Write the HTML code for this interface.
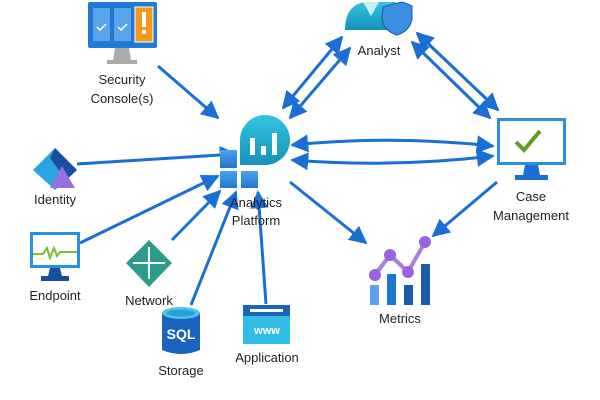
<!DOCTYPE html>
<html><head><meta charset="utf-8"><style>
html,body{margin:0;padding:0;background:#fff;}
svg{display:block;}
text{font-family:"Liberation Sans",sans-serif;font-size:13px;fill:#222;text-anchor:middle;}
</style></head><body>
<svg width="600" height="400" viewBox="0 0 600 400" xmlns="http://www.w3.org/2000/svg">
<defs>
<marker id="a" viewBox="0 0 10 10" refX="9" refY="5" markerWidth="6" markerHeight="6" orient="auto-start-reverse"><path d="M0,0 L10,5 L0,10 z" fill="#1a6fd4"/></marker>
<linearGradient id="tg" x1="0" y1="0" x2="0" y2="1"><stop offset="0" stop-color="#32c5e0"/><stop offset="1" stop-color="#1591b8"/></linearGradient>
<linearGradient id="bg" x1="0" y1="0" x2="0" y2="1"><stop offset="0" stop-color="#4aa3ea"/><stop offset="1" stop-color="#1f77d0"/></linearGradient>
</defs>
<g stroke="#1a6fd4" stroke-width="3" fill="none">
<line x1="158" y1="66" x2="218" y2="118" marker-end="url(#a)"/>
<line x1="77" y1="164" x2="236" y2="154" marker-end="url(#a)"/>
<line x1="80" y1="243" x2="218" y2="176" marker-end="url(#a)"/>
<line x1="172" y1="240" x2="220" y2="191" marker-end="url(#a)"/>
<line x1="191" y1="305" x2="236" y2="192" marker-end="url(#a)"/>
<line x1="266" y1="304" x2="258" y2="192" marker-end="url(#a)"/>
<line x1="290" y1="182" x2="366" y2="243" marker-end="url(#a)"/>
<line x1="497" y1="182" x2="433" y2="236" marker-end="url(#a)"/>
<line x1="342" y1="37" x2="283" y2="108" marker-start="url(#a)" marker-end="url(#a)"/>
<line x1="350" y1="48" x2="290" y2="118" marker-start="url(#a)" marker-end="url(#a)"/>
<line x1="417" y1="33" x2="498" y2="110" marker-start="url(#a)" marker-end="url(#a)"/>
<line x1="412" y1="42" x2="490" y2="118" marker-start="url(#a)" marker-end="url(#a)"/>
<path d="M292,145 Q392,135 493,146" marker-start="url(#a)" marker-end="url(#a)"/>
<path d="M292,160 Q392,168 493,156" marker-start="url(#a)" marker-end="url(#a)"/>
</g>
<rect x="88" y="2" width="69" height="46" rx="2" fill="#1f7ad6"/>
<rect x="93" y="8" width="17" height="33" fill="#5aa2ea"/>
<rect x="114" y="8" width="17" height="33" fill="#5aa2ea"/>
<rect x="135" y="7" width="18" height="35" fill="#f39a1c" stroke="#fff" stroke-width="1"/>
<rect x="142" y="12" width="4" height="15" fill="#fff"/><rect x="142" y="30" width="4" height="4" fill="#fff"/>
<path d="M97,27 l3,3 l6,-6 M118,27 l3,3 l6,-6" stroke="#fff" stroke-width="1.5" fill="none"/>
<path d="M115,48 h14 l2,12 h6 v4 h-30 v-4 h6 z" fill="#aaa"/>
<text x="122" y="84">Security</text><text x="122" y="103">Console(s)</text>
<path d="M345,30 Q345,5 365,2 L395,2 Q402,8 404,30 z" fill="url(#tg)"/>
<path d="M363,2 l8,14 l8,-14 z" fill="#cdeef7"/>
<path d="M383,7 q10,-3 19,-5 q6,2 10,4 v13 q-2,12 -15,16 q-13,-4 -15,-16 z" fill="#3b8ee0" stroke="#1a5ca8" stroke-width="1"/>
<text x="379" y="55">Analyst</text>
<path d="M55,148 L77,170 L55,190 L33,170 z" fill="#2aa4e0"/>
<path d="M55,148 L77,170 L66,180 L50,158 z" fill="#1a4f9e"/>
<path d="M62,166 L75,188 L50,188 z" fill="#9a6ee0"/>
<text x="55" y="204">Identity</text>
<path d="M240,165 V140 A25,25 0 1 1 265,165 z" fill="url(#tg)"/>
<rect x="250" y="138" width="5" height="17" fill="#fff"/><rect x="261" y="146" width="5" height="9" fill="#fff"/><rect x="272" y="133" width="5" height="22" fill="#fff"/>
<rect x="220" y="150" width="17" height="18" fill="url(#bg)"/>
<rect x="220" y="171" width="17" height="17" fill="url(#bg)"/>
<rect x="241" y="171" width="17" height="17" fill="url(#bg)"/>
<text x="256" y="207">Analytics</text><text x="256" y="225">Platform</text>
<rect x="30" y="232" width="50" height="36" fill="#2b8fe0"/>
<rect x="33" y="235" width="44" height="30" fill="#fff"/>
<path d="M33,254 h10 l4,-6 l3,10 l4,-10 l3,8 l3,-4 h17" stroke="#7cc02a" stroke-width="2" fill="none"/>
<path d="M50,268 h10 l2,8 h7 v5 h-28 v-5 h7 z" fill="#1a4f9e"/>
<text x="55" y="300">Endpoint</text>
<path d="M149,240 L172,263 L149,287 L126,263 z" fill="#2d9b8a"/>
<path d="M149,247 v32 M133,263 h32" stroke="#fff" stroke-width="2"/>
<text x="149" y="305">Network</text>
<path d="M162,313 V350 Q181,358 200,350 V313 z" fill="#1a64c0"/>
<ellipse cx="181" cy="313" rx="19" ry="6" fill="#4fc3ea"/>
<ellipse cx="181" cy="313" rx="14" ry="3.5" fill="#2aa0d8"/>
<text x="181" y="339" style="font-size:14px;font-weight:bold;fill:#fff">SQL</text>
<text x="181" y="375">Storage</text>
<rect x="243" y="305" width="47" height="39" fill="#32bde8"/>
<rect x="243" y="305" width="47" height="11" fill="#1a64c0"/>
<rect x="250" y="309" width="33" height="3" fill="#fff"/>
<text x="267" y="334" style="font-size:11px;font-weight:bold;fill:#fff">www</text>
<text x="267" y="362">Application</text>
<rect x="370" y="285" width="9" height="20" fill="#5aa2ea"/>
<rect x="387" y="274" width="9" height="31" fill="#1a78d0"/>
<rect x="404" y="285" width="9" height="20" fill="#1a5ca8"/>
<rect x="421" y="264" width="9" height="41" fill="#1a5ca8"/>
<path d="M375,275 L390,255 L408,272 L425,242" stroke="#a77de6" stroke-width="4" fill="none"/>
<circle cx="375" cy="275" r="6" fill="#9a63e0"/><circle cx="390" cy="255" r="6" fill="#9a63e0"/><circle cx="408" cy="272" r="6" fill="#9a63e0"/><circle cx="425" cy="242" r="6" fill="#9a63e0"/>
<text x="400" y="323">Metrics</text>
<rect x="497" y="118" width="69" height="47" fill="#2b8fe0"/>
<rect x="500" y="121" width="63" height="41" fill="#fff"/>
<path d="M516,142 l8,8 l16,-19" stroke="#5a9e22" stroke-width="4" fill="none"/>
<path d="M525,165 h13 l2,10 h8 v5 h-33 v-5 h8 z" fill="#1a6fd4"/>
<text x="531" y="201">Case</text><text x="531" y="220">Management</text>
</svg>
</body></html>
